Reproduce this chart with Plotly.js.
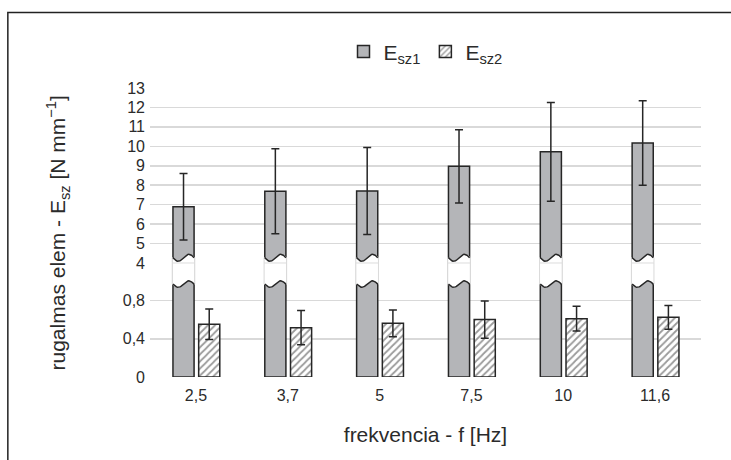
<!DOCTYPE html>
<html><head><meta charset="utf-8">
<script src="https://cdn.plot.ly/plotly-3.0.1.min.js"></script>
<style>html,body{margin:0;padding:0;background:#fff}#chart{width:731px;height:460px}</style>
</head><body><div id="chart"></div>
<script>
// ---- data ----
const categories = ["2,5", "3,7", "5", "7,5", "10", "11,6"];
const esz1 = [6.89, 7.69, 7.70, 8.97, 9.72, 10.17];
const esz1Err = [1.71, 2.19, 2.24, 1.88, 2.54, 2.17];
const esz2 = [0.552, 0.517, 0.562, 0.601, 0.611, 0.625];
const esz2Err = [0.160, 0.180, 0.140, 0.195, 0.130, 0.125];
const lowTickVals = [0, 0.4, 0.8];
const lowTickText = ["0", "0,4", "0,8"];
const upTickVals = [4, 5, 6, 7, 8, 9, 10, 11, 12, 13];
const upTickText = ["4", "5", "6", "7", "8", "9", "10", "11", "12", "13"];

// ---- style / geometry ----
const xs = categories.map((c, i) => i);
const W = 0.23, OFF1 = -0.25, OFF2 = 0.03;
const LOW_MAX = 1.194, UP_MIN = 4, UP_MAX = 13;
const SPLIT = 0.3945;
const dark = '#262626', grey = '#b4b5b8', grid = '#d9d9d9', txt = '#2b2b2b';
const font = 'Liberation Sans, Arial, sans-serif';

// break decoration (wavy cut) computed from bar positions
function wave(c, a, t) { return c - a * Math.sin(2 * Math.PI * t); }
const N = 24, pad = 0.008;
let lpX = [], lpY = [], llX = [], llY = [], upX = [], upY = [], ulX = [], ulY = [];
xs.forEach(i => {
  const L = i + OFF1, R = i + OFF1 + W;
  for (let k = 0; k <= N; k++) {
    const t = k / N, x = (L - pad) + (R - L + 2 * pad) * t;
    lpX.push(x); lpY.push(wave(0.973, 0.034, t));
    upX.push(x); upY.push(wave(4.27, 0.18, t));
    const xl = L + (R - L) * t;
    llX.push(xl); llY.push(wave(0.973, 0.034, t));
    ulX.push(xl); ulY.push(wave(4.27, 0.18, t));
  }
  lpX.push(R + pad, L - pad, L - pad, null); lpY.push(LOW_MAX, LOW_MAX, wave(0.973, 0.034, 0), null);
  upX.push(R + pad, L - pad, L - pad, null); upY.push(UP_MIN, UP_MIN, wave(4.27, 0.18, 0), null);
  llX.push(null); llY.push(null); ulX.push(null); ulY.push(null);
});

const traces = [
  { type: 'bar', x: xs, y: esz1, yaxis: 'y', offset: OFF1, width: W, showlegend: false,
    marker: { color: grey, line: { color: dark, width: 1.5 } }, hoverinfo: 'skip' },
  { type: 'bar', x: xs, y: esz1, yaxis: 'y2', offset: OFF1, width: W, name: 'E<sub>sz1</sub>',
    marker: { color: grey, line: { color: dark, width: 1.5 } },
    error_y: { type: 'data', array: esz1Err, visible: true, color: dark, thickness: 1.5, width: 4 } },
  { type: 'bar', x: xs, y: esz2, yaxis: 'y', offset: OFF2, width: W, name: 'E<sub>sz2</sub>',
    marker: { color: 'white', line: { color: dark, width: 1.5 },
      pattern: { shape: '/', fgcolor: '#9a9a9a', bgcolor: 'white', size: 5, solidity: 0.35 } },
    error_y: { type: 'data', array: esz2Err, visible: true, color: dark, thickness: 1.5, width: 4 } },
  { type: 'scatter', mode: 'lines', x: lpX, y: lpY, yaxis: 'y', fill: 'toself', fillcolor: 'white',
    line: { color: '#dcdcdc', width: 1 }, showlegend: false, hoverinfo: 'skip' },
  { type: 'scatter', mode: 'lines', x: upX, y: upY, yaxis: 'y2', fill: 'toself', fillcolor: 'white',
    line: { color: '#dcdcdc', width: 1 }, showlegend: false, hoverinfo: 'skip' },
  { type: 'scatter', mode: 'lines', x: llX, y: llY, yaxis: 'y', line: { color: dark, width: 1.5 },
    showlegend: false, hoverinfo: 'skip' },
  { type: 'scatter', mode: 'lines', x: ulX, y: ulY, yaxis: 'y2', line: { color: dark, width: 1.5 },
    showlegend: false, hoverinfo: 'skip' }
];

const layout = {
  width: 731, height: 460,
  margin: { l: 150, r: 30, t: 88, b: 83 },
  paper_bgcolor: 'white', plot_bgcolor: 'white',
  font: { family: font, color: txt, size: 16 },
  barmode: 'overlay',
  showlegend: true,
  legend: { orientation: 'h', x: 0.5, xanchor: 'center', y: 1.125, yanchor: 'middle',
    font: { size: 21, color: txt }, traceorder: 'normal', itemwidth: 30 },
  xaxis: { range: [-0.5, 5.5], tickvals: xs, ticktext: categories, showgrid: false,
    zeroline: false, showline: false, ticks: '', anchor: 'y', ticklabelstandoff: 7,
    tickfont: { size: 16, color: txt },
    title: { text: 'frekvencia - f [Hz]', font: { size: 21, color: txt }, standoff: 24 } },
  yaxis: { domain: [0, SPLIT], range: [0, LOW_MAX], tickvals: lowTickVals, ticktext: lowTickText,
    showgrid: true, gridcolor: grid, gridwidth: 1.5, zeroline: false, showline: false, ticks: '',
    ticklabelstandoff: 4, tickfont: { size: 16, color: txt }, anchor: 'x' },
  yaxis2: { domain: [SPLIT, 1], range: [UP_MIN, UP_MAX], tickvals: upTickVals, ticktext: upTickText,
    showgrid: true, gridcolor: grid, gridwidth: 1.5, zeroline: false, showline: false, ticks: '',
    ticklabelstandoff: 4, tickfont: { size: 16, color: txt }, anchor: 'x' },
  annotations: [{
    xref: 'paper', yref: 'paper', x: -0.167, y: 0.5, xanchor: 'center', yanchor: 'middle',
    textangle: -90, showarrow: false,
    text: 'rugalmas elem - E<sub>sz</sub> [N mm<sup>−1</sup>]',
    font: { size: 21, color: txt }
  }],
  shapes: [{
    type: 'rect', xref: 'paper', yref: 'paper', x0: -0.258, x1: 1.4, y0: -0.5, y1: 1.2615,
    line: { color: '#222', width: 1.5 }, fillcolor: 'rgba(0,0,0,0)', layer: 'below'
  }]
};

Plotly.newPlot('chart', traces, layout, { displayModeBar: false, staticPlot: true });
</script></body></html>
